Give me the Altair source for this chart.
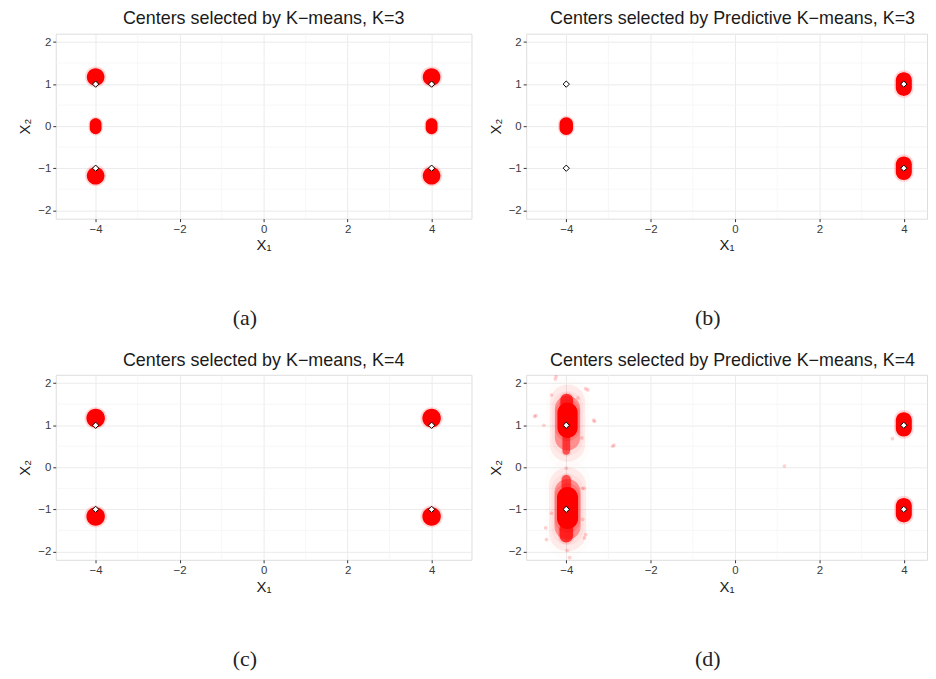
import altair as alt
import pandas as pd

# ---- data ----
panels = ["a", "b", "c", "d"]
panel_titles = [
    "Centers selected by K\u2212means, K=3",
    "Centers selected by Predictive K\u2212means, K=3",
    "Centers selected by K\u2212means, K=4",
    "Centers selected by Predictive K\u2212means, K=4",
]
captions = ["(a)", "(b)", "(c)", "(d)"]

# true centers (white diamonds)
true_panel = ["a"] * 4 + ["b"] * 4 + ["c"] * 4 + ["d"] * 4
true_x = [-4, -4, 4, 4] * 4
true_y = [1, -1, 1, -1] * 4

# dense clouds of selected centers: centre, half extents, opacity
cloud_panel = ["a", "a", "a", "a", "a", "a",
               "b", "b", "b",
               "c", "c", "c", "c",
               "d", "d",
               "d", "d", "d", "d", "d",
               "d", "d", "d", "d", "d"]
cloud_x = [-4, -4, -4, 4, 4, 4,
           -4, 4, 4,
           -4, -4, 4, 4,
           4, 4,
           -3.97, -4.0, -3.99, -3.97, -3.97,
           -3.97, -4.0, -4.0, -3.97, -3.97]
cloud_y = [1.17, 0.0, -1.18, 1.17, 0.0, -1.18,
           0.0, 1.0, -1.0,
           1.17, -1.17, 1.17, -1.17,
           1.02, -1.02,
           1.12, 0.55, 1.55, 1.05, 1.05,
           -0.97, -0.38, -1.55, -1.0, -1.0]
cloud_rx = [0.21, 0.14, 0.21, 0.21, 0.14, 0.21,
            0.16, 0.19, 0.19,
            0.22, 0.22, 0.22, 0.22,
            0.19, 0.19,
            0.24, 0.09, 0.15, 0.30, 0.42,
            0.25, 0.11, 0.16, 0.31, 0.44]
cloud_ry = [0.21, 0.19, 0.21, 0.21, 0.19, 0.21,
            0.21, 0.28, 0.28,
            0.22, 0.22, 0.22, 0.22,
            0.29, 0.29,
            0.42, 0.25, 0.20, 0.65, 0.92,
            0.50, 0.20, 0.24, 0.72, 1.00]
cloud_alpha = [1, 1, 1, 1, 1, 1,
               1, 1, 1,
               1, 1, 1, 1,
               1, 1,
               1, 0.6, 0.75, 0.35, 0.07,
               1, 0.6, 0.75, 0.35, 0.07]

# scattered single points (panel d)
stray_x = [-4.72, -4.53, -2.87, 1.17, -3.54, -3.35, -3.62, -4.49, -4.26, 3.73,
           -3.54, -3.98, -4.75, -3.49, -3.33, -2.9, -4.35, -3.72, -4.24, -3.63,
           -4.35, -3.57, -3.61, -4.47, -3.57, -4.0, -3.92]
stray_y = [1.23, 1.0, 0.53, 0.03, 1.87, 1.12, -0.5, -1.44, 2.1, 0.68,
           -1.6, -1.98, 1.21, 1.84, 1.09, 0.5, 1.72, 1.65, 2.16, 0.7,
           -1.09, -0.5, -1.24, -1.72, -1.68, -0.02, -2.15]

x_major = [-4, -2, 0, 2, 4]
y_major = [-2, -1, 0, 1, 2]
x_minor = [-3, -1, 1, 3]
y_minor = [-1.5, -0.5, 0.5, 1.5]

# ---- tables ----
clouds = pd.DataFrame({"panel": cloud_panel, "x": cloud_x, "y": cloud_y,
                       "rx": cloud_rx, "ry": cloud_ry, "alpha": cloud_alpha})
clouds["x1"] = clouds.x - clouds.rx
clouds["x2"] = clouds.x + clouds.rx
clouds["y1"] = clouds.y - clouds.ry
clouds["y2"] = clouds.y + clouds.ry
halo = clouds.copy()
halo["x1"] = halo.x - halo.rx * 1.22
halo["x2"] = halo.x + halo.rx * 1.22
halo["y1"] = halo.y - halo.ry * 1.18
halo["y2"] = halo.y + halo.ry * 1.18
halo["alpha"] = halo.alpha * 0.15
truth = pd.DataFrame({"panel": true_panel, "x": true_x, "y": true_y})
stray = pd.DataFrame({"x": stray_x, "y": stray_y})
xmin_df = pd.DataFrame({"v": x_minor})
ymin_df = pd.DataFrame({"v": y_minor})

FONT = "Liberation Sans"
RED = "#ff0000"
LEFT_W, RIGHT_W, H = 418, 403, 186


def make_panel(p, title, width, xdom, dx):
    xs = alt.Scale(domain=xdom, nice=False, zero=False)
    ys = alt.Scale(domain=[-2.2, 2.2], nice=False, zero=False)
    xax = alt.Axis(values=x_major, grid=True, gridColor="#ebebeb", domain=False,
                   tickColor="#333333", tickSize=3, labelColor="#3a3a3a",
                   labelFontSize=11.5, labelFont=FONT, labelPadding=2,
                   title="X\u2081", titleFont=FONT, titleFontSize=15,
                   titleFontWeight="normal", titleColor="#1a1a1a", titlePadding=3)
    yax = alt.Axis(values=y_major, grid=True, gridColor="#ebebeb", domain=False,
                   tickColor="#333333", tickSize=3, labelColor="#3a3a3a",
                   labelFontSize=11.5, labelFont=FONT, labelPadding=2,
                   title="X\u2082", titleFont=FONT, titleFontSize=15,
                   titleFontWeight="normal", titleColor="#1a1a1a", titlePadding=5)

    vmin = alt.Chart(xmin_df).mark_rule(color="#f4f4f4", strokeWidth=0.7).encode(
        x=alt.X("v:Q", scale=xs, axis=xax))
    hmin = alt.Chart(ymin_df).mark_rule(color="#f4f4f4", strokeWidth=0.7).encode(
        y=alt.Y("v:Q", scale=ys, axis=yax))

    cp = clouds[clouds.panel == p]
    hp = halo[halo.panel == p]
    halo_l = alt.Chart(hp).mark_rect(color=RED, cornerRadius=40, clip=True).encode(
        x=alt.X("x1:Q", scale=xs), x2="x2:Q",
        y=alt.Y("y1:Q", scale=ys), y2="y2:Q",
        opacity=alt.Opacity("alpha:Q", scale=None, legend=None))
    core_l = alt.Chart(cp).mark_rect(color=RED, cornerRadius=40, clip=True).encode(
        x=alt.X("x1:Q", scale=xs), x2="x2:Q",
        y=alt.Y("y1:Q", scale=ys), y2="y2:Q",
        opacity=alt.Opacity("alpha:Q", scale=None, legend=None))
    layers = [vmin, hmin, halo_l, core_l]
    if p == "d":
        layers.append(alt.Chart(stray).mark_circle(color=RED, size=14, opacity=0.18,
                                                   clip=True).encode(
            x=alt.X("x:Q", scale=xs), y=alt.Y("y:Q", scale=ys)))
    tp = truth[truth.panel == p]
    layers.append(alt.Chart(tp).mark_point(shape="diamond", filled=True, fill="white",
                                           stroke="black", strokeWidth=1, size=40,
                                           opacity=1).encode(
        x=alt.X("x:Q", scale=xs), y=alt.Y("y:Q", scale=ys)))
    ch = alt.layer(*layers).properties(
        width=width, height=H,
        title=alt.TitleParams(title, font=FONT, fontSize=18, fontWeight="normal",
                              color="#1a1a1a", offset=5, dx=dx))
    return ch


def sub(i, width, xdom, dx):
    ch = make_panel(panels[i], panel_titles[i], width, xdom, dx)
    return alt.vconcat(ch).properties(
        title=alt.TitleParams(captions[i], orient="bottom", font="Liberation Serif",
                              fontSize=22, fontWeight="normal", color="#222222",
                              offset=55, anchor="middle"))


row1 = alt.hconcat(sub(0, LEFT_W, [-4.95, 4.95], 0), sub(1, RIGHT_W, [-4.95, 4.55], 6),
                   spacing=15)
row2 = alt.hconcat(sub(2, LEFT_W, [-4.95, 4.95], 0), sub(3, RIGHT_W, [-4.95, 4.55], 6),
                   spacing=15)
chart = alt.vconcat(row1, row2, spacing=22).properties(
    padding={"left": 9, "top": 0, "right": 0, "bottom": 0}
).configure_view(
    stroke="#a6a6a6", strokeWidth=1
).configure(background="white")

chart.save("out.html", embed_options={"renderer": "svg", "actions": False})
